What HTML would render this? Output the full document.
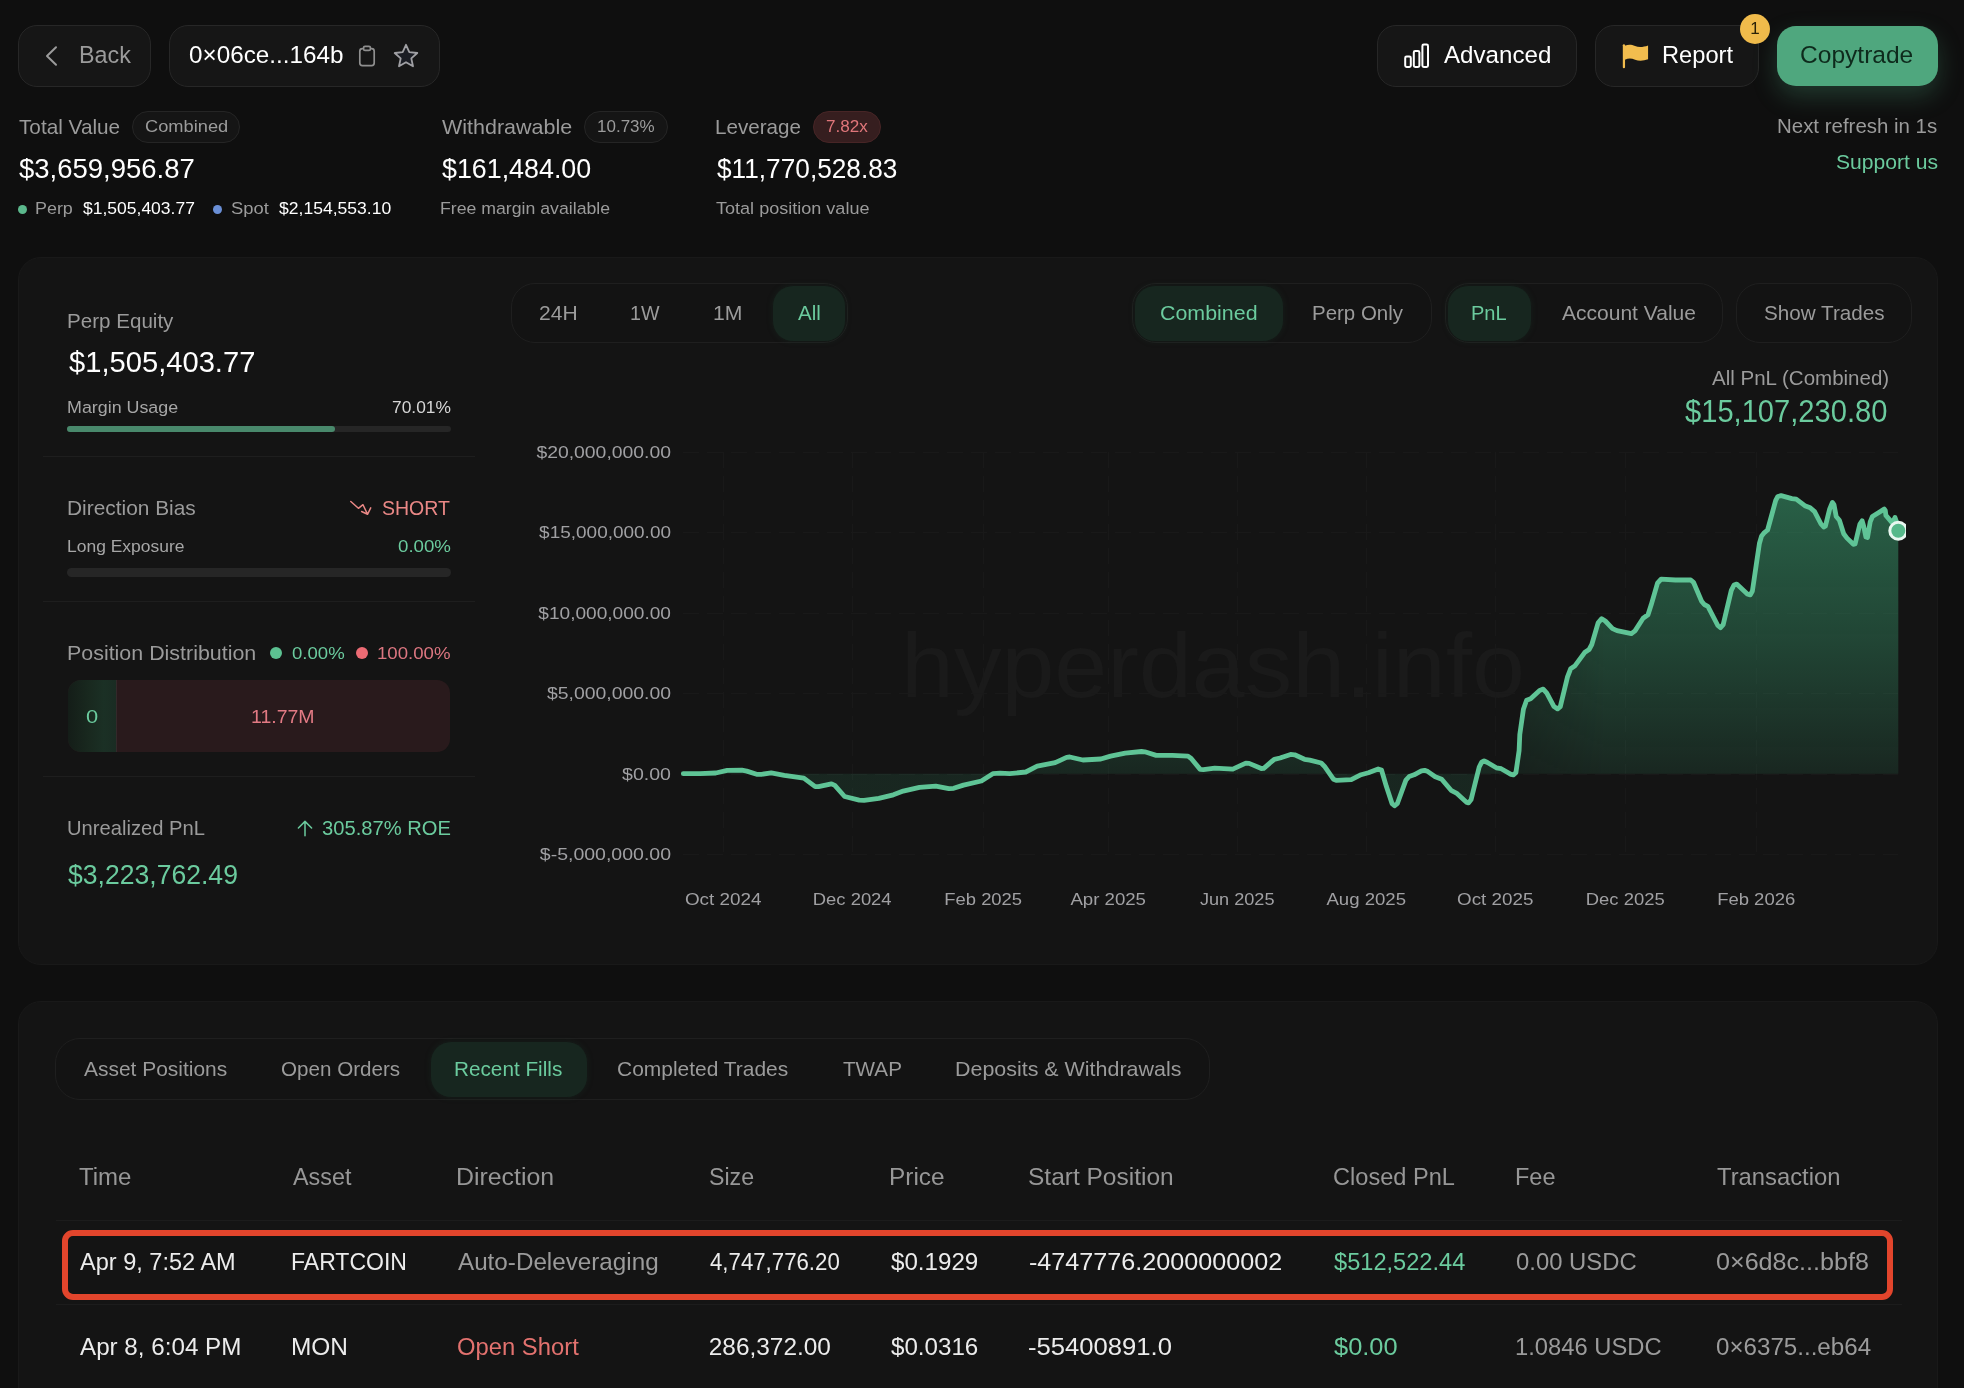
<!DOCTYPE html>
<html lang="en">
<head>
<meta charset="utf-8">
<title>hyperdash.info - Trader 0x06ce...164b</title>
<style>
*{box-sizing:border-box;margin:0;padding:0}
html,body{width:1964px;height:1388px;overflow:hidden;background:#0f0f0f}
body{position:relative;will-change:transform;font-family:"Liberation Sans",Arial,sans-serif;color:#fff;-webkit-font-smoothing:antialiased}
.a{position:absolute;white-space:nowrap;line-height:1;transform-origin:0 0}
.g{color:#9b9b9b}
.gr{color:#6bcb9e}
.rd{color:#ea8886}
.btn{position:absolute;top:25px;height:62px;border-radius:19px;background:#161616;border:1px solid #272727}
.pill{position:absolute;height:32px;border-radius:16px;background:#151515;border:1px solid #252525;font-size:17px;color:#9b9b9b;text-align:center;line-height:30px}
.card{position:absolute;left:18px;width:1920px;background:#141414;border:1px solid #191919;border-radius:23px}
.grp{position:absolute;border:1px solid #1f1f1f;border-radius:24px;background:#131313}
.sel{position:absolute;background:#17261f;border-radius:20px;box-shadow:0 0 6px rgba(30,70,50,.25)}
.t20{font-size:20px}
.t17{font-size:17px}
.hr{position:absolute;left:43px;width:432px;height:1px;background:#1e1e1e}
.bar{position:absolute;left:67px;width:384px;background:#262626}
.th{font-size:24px;color:#979797}
.td{font-size:24px}
</style>
</head>
<body>

<!-- HEADER -->
<div class="btn" style="left:18px;width:133px"></div>
<svg class="a" style="left:43.4px;top:43px" width="18" height="26" viewBox="0 0 18 26"><path d="M13 4.3 L4 13 L13 21.7" fill="none" stroke="#9b9b9b" stroke-width="2" stroke-linecap="round" stroke-linejoin="round"/></svg>
<div class="a g" id="back" style="left:78.6px;top:42.9px;font-size:24.5px;transform:scaleX(0.952);">Back</div>

<div class="btn" style="left:169px;width:271px"></div>
<div class="a" id="addr" style="left:188.6px;top:42.9px;font-size:24.5px;transform:scaleX(0.990);">0×06ce...164b</div>
<svg class="a" style="left:357px;top:43px" width="20" height="26" viewBox="0 0 20 26"><rect x="2.8" y="5.6" width="14.4" height="17" rx="2.6" fill="none" stroke="#8f8f8f" stroke-width="1.7"/><rect x="6.6" y="3.3" width="6.8" height="4" rx="1.4" fill="#161616" stroke="#8f8f8f" stroke-width="1.7"/></svg>
<svg class="a" style="left:392px;top:42px" width="28" height="28" viewBox="0 0 28 28"><path d="M14 2.8 L17.3 10.2 L25.3 11 L19.3 16.4 L21 24.3 L14 20.2 L7 24.3 L8.7 16.4 L2.7 11 L10.7 10.2 Z" fill="#1b1d24" stroke="#a0a0a4" stroke-width="1.8" stroke-linejoin="round"/></svg>

<div class="btn" style="left:1377px;width:200px"></div>
<svg class="a" style="left:1403px;top:42px" width="28" height="28" viewBox="0 0 28 28"><g fill="none" stroke="#fff" stroke-width="2" stroke-linejoin="round"><rect x="2.2" y="14.5" width="5.6" height="10.5" rx="1.4"/><rect x="10.8" y="9" width="5.6" height="16" rx="1.4"/><rect x="19.4" y="2.5" width="5.6" height="22.5" rx="1.4"/></g></svg>
<div class="a" id="adv" style="left:1444.3px;top:42.9px;font-size:24.5px;transform:scaleX(0.985);">Advanced</div>

<div class="btn" style="left:1595px;width:164px"></div>
<svg class="a" style="left:1621.5px;top:43px" width="28" height="26" viewBox="0 0 30 28"><path d="M2 2.5 L2 26" stroke="#f2bd4e" stroke-width="2.4" stroke-linecap="round" fill="none"/><path d="M3 3 C7 1.2 10 1.6 14 3.2 C18 4.8 23 4.4 28 2.6 L28 17.5 C23 19.4 18 19.6 14 18 C10 16.4 7 16.2 3 18 Z" fill="#f2bd4e"/></svg>
<div class="a" id="rep" style="left:1661.6px;top:42.9px;font-size:24.5px;transform:scaleX(0.966);">Report</div>
<div class="a" style="left:1740px;top:14px;width:30px;height:30px;border-radius:50%;background:#f0bb4b;color:#2a2208;font-size:17px;text-align:center;line-height:30px">1</div>

<div class="a" style="left:1777px;top:26px;width:161px;height:60px;border-radius:19px;background:#4fa77e;box-shadow:0 10px 24px rgba(79,167,126,.28)"></div>
<div class="a" id="copy" style="left:1800.3px;top:42.9px;font-size:24.5px;transform:scaleX(1.002);color:#0e2a1c">Copytrade</div>

<div class="a g t20" id="nref" style="left:1777.2px;top:116.4px;font-size:20.3px;transform:scaleX(1.008);">Next refresh in 1s</div>
<div class="a gr t20" id="supp" style="left:1835.6px;top:152.0px;font-size:20.3px;transform:scaleX(1.041);">Support us</div>

<!-- STATS -->
<div class="a g t20" id="tv" style="left:18.6px;top:117.0px;font-size:20.3px;transform:scaleX(1.023);">Total Value</div>
<div class="pill" style="left:132px;top:111px;width:108px"></div><div class="a g" id="pl1" style="left:145.1px;top:118.0px;font-size:17.2px;transform:scaleX(1.062);">Combined</div>
<div class="a" id="tvv" style="left:19.0px;top:156.2px;font-size:26.8px;transform:scaleX(1.026);">$3,659,956.87</div>
<div class="a" style="left:18px;top:205px;width:9px;height:9px;border-radius:50%;background:#5bb88c"></div>
<div class="a g t17" id="perp" style="left:35.3px;top:199.7px;font-size:17.2px;transform:scaleX(1.042);">Perp</div>
<div class="a t17" id="perpv" style="left:83.4px;top:199.7px;font-size:17.2px;transform:scaleX(1.018);">$1,505,403.77</div>
<div class="a" style="left:213px;top:205px;width:9px;height:9px;border-radius:50%;background:#6a8fd6"></div>
<div class="a g t17" id="spot" style="left:230.8px;top:199.7px;font-size:17.2px;transform:scaleX(1.070);">Spot</div>
<div class="a t17" id="spotv" style="left:279.4px;top:199.7px;font-size:17.2px;transform:scaleX(1.021);">$2,154,553.10</div>

<div class="a g t20" id="wd" style="left:441.5px;top:117.0px;font-size:20.3px;transform:scaleX(1.060);">Withdrawable</div>
<div class="pill" style="left:584px;top:111px;width:84px"></div><div class="a g" id="pl2" style="left:596.6px;top:118.0px;font-size:17.2px;transform:scaleX(0.989);">10.73%</div>
<div class="a" id="wdv" style="left:441.5px;top:156.2px;font-size:26.8px;transform:scaleX(1.001);">$161,484.00</div>
<div class="a g t17" id="fma" style="left:440.1px;top:199.7px;font-size:17.2px;transform:scaleX(1.029);">Free margin available</div>

<div class="a g t20" id="lev" style="left:714.9px;top:117.0px;font-size:20.3px;transform:scaleX(1.017);">Leverage</div>
<div class="pill" style="left:813px;top:111px;width:68px;background:#361e1f;border-color:#472526"></div><div class="a" id="pl3" style="left:825.5px;top:118.0px;font-size:17.2px;transform:scaleX(0.996);color:#e0767a">7.82x</div>
<div class="a" id="levv" style="left:716.5px;top:156.2px;font-size:26.8px;transform:scaleX(0.979);">$11,770,528.83</div>
<div class="a g t17" id="tpv" style="left:716.2px;top:199.7px;font-size:17.2px;transform:scaleX(1.050);">Total position value</div>

<!-- MAIN CARD -->
<div class="card" id="card1" style="top:257px;height:708px"><div style="position:absolute;left:0;top:1px">
<!--LEFT (coords relative to card: card origin = 18,258 incl. 1px border => inner origin 19,259)-->
<div class="a g t20" id="pe" style="left:47.9px;top:51.9px;font-size:20.3px;transform:scaleX(1.015);">Perp Equity</div>
<div class="a" id="pev" style="left:49.6px;top:89.1px;font-size:28.8px;transform:scaleX(1.012);">$1,505,403.77</div>
<div class="a t17" id="mu" style="left:48.0px;top:140.0px;font-size:17.2px;transform:scaleX(1.039);color:#a6a6a6">Margin Usage</div>
<div class="a t17" id="muv" style="left:372.5px;top:140.0px;font-size:17.2px;transform:scaleX(1.012);color:#d6d6d6">70.01%</div>
<div class="bar" style="left:48px;top:167px;height:6px;border-radius:3px"><div style="width:268px;height:6px;border-radius:3px;background:#49896c"></div></div>
<div class="hr" style="left:24px;top:197px"></div>

<div class="a g t20" id="db" style="left:47.9px;top:239.2px;font-size:20.3px;transform:scaleX(1.029);">Direction Bias</div>
<svg class="a" style="left:330px;top:240px" width="24" height="18" viewBox="0 0 24 18"><path d="M1.8 2.5 L9.4 9.3 L14 5.7 L18.5 15.3 M21.7 8.9 L18.5 15.3 L12.6 12.5" fill="none" stroke="#ea8886" stroke-width="1.5" stroke-linecap="round" stroke-linejoin="round"/></svg>
<div class="a rd t20" id="sh" style="left:363.3px;top:239.2px;font-size:20.3px;transform:scaleX(0.962);">SHORT</div>
<div class="a t17" id="le" style="left:48.1px;top:278.6px;font-size:17.2px;transform:scaleX(1.016);color:#a6a6a6">Long Exposure</div>
<div class="a t17 gr" id="lev0" style="left:378.5px;top:278.6px;font-size:17.2px;transform:scaleX(1.087);">0.00%</div>
<div class="bar" style="left:48px;top:309px;height:9px;border-radius:4.5px"></div>
<div class="hr" style="left:24px;top:342px"></div>

<div class="a g t20" id="pd" style="left:47.7px;top:383.7px;font-size:20.3px;transform:scaleX(1.056);">Position Distribution</div>
<div class="a" style="left:251px;top:388px;width:12px;height:12px;border-radius:50%;background:#5cc191"></div>
<div class="a gr t17" id="pd0" style="left:272.5px;top:385.8px;font-size:17.2px;transform:scaleX(1.081);">0.00%</div>
<div class="a" style="left:337px;top:388px;width:12px;height:12px;border-radius:50%;background:#ec6b74"></div>
<div class="a t17" id="pd100" style="left:358.0px;top:385.8px;font-size:17.2px;transform:scaleX(1.084);;color:#dc7680">100.00%</div>
<div class="a" style="left:49px;top:421px;width:382px;height:72px;border-radius:13px;overflow:hidden;background:#291a1c">
  <div style="position:absolute;left:0;top:0;width:49px;height:72px;background:linear-gradient(90deg,#141d18 0%,#19291f 45%,#1b3025 75%,#1a2c23 100%);border-right:1px solid #33292a"></div>
  <div class="a gr" id="d0" style="left:17.6px;top:27.0px;font-size:19px;transform:scaleX(1.151);">0</div>
  <div class="a" id="d1" style="left:183.2px;top:27.0px;font-size:19px;transform:scaleX(1.026);color:#e27a84">11.77M</div>
</div>
<div class="hr" style="left:24px;top:517px"></div>

<div class="a g t20" id="up" style="left:47.9px;top:558.9px;font-size:20.3px;transform:scaleX(0.995);">Unrealized PnL</div>
<svg class="a" style="left:276px;top:559px" width="20" height="22" viewBox="0 0 20 22"><path d="M10 17.8 L10 3.4 M3.4 10 L10 3.4 L16.6 10" fill="none" stroke="#6bcb9e" stroke-width="1.5" stroke-linecap="round" stroke-linejoin="round"/></svg>
<div class="a gr t20" id="roe" style="left:302.5px;top:558.9px;font-size:20.3px;transform:scaleX(0.994);">305.87% ROE</div>
<div class="a gr" id="upv" style="left:49.4px;top:601.8px;font-size:27.4px;transform:scaleX(0.970);">$3,223,762.49</div>

<!--CHART controls (page coords minus 19,259)-->
<div class="grp" style="left:492px;top:24px;width:337px;height:60px"></div>
<div class="sel" style="left:754px;top:27px;width:72px;height:55px"></div>
<div class="a g t20" id="r24" style="left:519.5px;top:43.5px;font-size:20.3px;transform:scaleX(1.039);">24H</div>
<div class="a g t20" id="r1w" style="left:610.5px;top:43.5px;font-size:20.3px;transform:scaleX(0.970);">1W</div>
<div class="a g t20" id="r1m" style="left:694.4px;top:43.5px;font-size:20.3px;transform:scaleX(1.045);">1M</div>
<div class="a gr t20" id="rall" style="left:779.0px;top:43.5px;font-size:20.3px;transform:scaleX(1.012);">All</div>

<div class="grp" style="left:1113px;top:24px;width:300px;height:60px"></div>
<div class="sel" style="left:1116px;top:27px;width:148px;height:55px"></div>
<div class="a gr t20" id="cmb" style="left:1141.3px;top:43.5px;font-size:20.3px;transform:scaleX(1.055);">Combined</div>
<div class="a g t20" id="po" style="left:1292.5px;top:43.5px;font-size:20.3px;transform:scaleX(1.009);">Perp Only</div>

<div class="grp" style="left:1426px;top:24px;width:278px;height:60px"></div>
<div class="sel" style="left:1429px;top:27px;width:83px;height:55px"></div>
<div class="a gr t20" id="pnl" style="left:1451.9px;top:43.5px;font-size:20.3px;transform:scaleX(0.988);">PnL</div>
<div class="a g t20" id="av" style="left:1542.5px;top:43.5px;font-size:20.3px;transform:scaleX(1.036);">Account Value</div>

<div class="grp" style="left:1717px;top:24px;width:176px;height:60px"></div>
<div class="a g t20" id="st" style="left:1744.6px;top:43.5px;font-size:20.3px;transform:scaleX(1.019);">Show Trades</div>

<div class="a g t20" id="apc" style="left:1693.2px;top:108.8px;font-size:20.3px;transform:scaleX(1.012);">All PnL (Combined)</div>
<div class="a gr" id="apv" style="left:1666.3px;top:137.3px;font-size:31px;transform:scaleX(0.939);">$15,107,230.80</div>

</div></div>

<!--SVGSTART-->
<svg class="a" id="chart" style="left:0;top:0" width="1964" height="1388" viewBox="0 0 1964 1388">
<defs><linearGradient id="ag" gradientUnits="userSpaceOnUse" x1="0" y1="495" x2="0" y2="774"><stop offset="0" stop-color="#42bd85" stop-opacity=".45"/><stop offset=".5" stop-color="#42bd85" stop-opacity=".30"/><stop offset="1" stop-color="#42bd85" stop-opacity=".115"/></linearGradient><linearGradient id="mg" gradientUnits="userSpaceOnUse" x1="683" y1="0" x2="1898" y2="0"><stop offset="0" stop-color="#fff"/><stop offset=".6855" stop-color="#fff"/><stop offset=".6865" stop-color="#a8a8a8"/><stop offset=".76" stop-color="#fff"/><stop offset="1" stop-color="#fff"/></linearGradient><mask id="mk" maskUnits="userSpaceOnUse" x="676" y="440" width="1230" height="430"><rect x="676" y="440" width="1230" height="430" fill="url(#mg)"/></mask><clipPath id="cc"><rect x="676" y="440" width="1230" height="430"/></clipPath></defs>
<text x="1213" y="697" text-anchor="middle" font-family="'Liberation Sans',Arial,sans-serif" font-size="90" textLength="624" lengthAdjust="spacingAndGlyphs" fill="#1a1a1a" id="wm">hyperdash.info</text>
<g stroke="#191919" stroke-width="1" stroke-dasharray="16 8" fill="none">
<path d="M683 452.5 H1898"/>
<path d="M683 532.5 H1898"/>
<path d="M683 613.5 H1898"/>
<path d="M683 693.5 H1898"/>
<path d="M683 774.5 H1898"/>
<path d="M683 854.5 H1898"/>
<path d="M723.5 452 V854"/>
<path d="M852.5 452 V854"/>
<path d="M983.5 452 V854"/>
<path d="M1108.5 452 V854"/>
<path d="M1237.5 452 V854"/>
<path d="M1366.5 452 V854"/>
<path d="M1495.5 452 V854"/>
<path d="M1625.5 452 V854"/>
<path d="M1756.5 452 V854"/>
</g>
<g clip-path="url(#cc)">
<path d="M683.3,773.7 L700.0,773.6 L715.8,773.0 L727.2,770.4 L741.9,770.2 L746.8,771.1 L756.6,774.3 L761.5,774.3 L771.2,772.9 L784.3,775.3 L803.8,778.1 L815.2,786.7 L818.5,786.7 L831.5,783.8 L834.8,785.4 L844.6,796.5 L859.2,800.1 L864.1,800.4 L878.8,798.4 L893.4,794.8 L903.2,791.1 L919.5,787.4 L935.8,786.2 L948.8,788.7 L953.7,788.3 L963.5,785.1 L981.4,781.0 L992.8,773.7 L1000.0,773.2 L1009.6,773.7 L1025.8,772.0 L1037.2,766.2 L1055.2,762.6 L1066.6,757.4 L1069.8,757.0 L1082.9,760.0 L1100.8,759.0 L1110.6,756.1 L1125.2,753.1 L1141.5,751.5 L1144.8,751.8 L1156.2,755.4 L1172.5,755.4 L1188.0,756.1 L1191.2,758.5 L1200.2,769.4 L1203.4,769.6 L1214.8,768.1 L1232.8,769.1 L1245.8,763.1 L1249.1,763.4 L1261.3,768.5 L1263.7,768.3 L1274.3,759.3 L1280.0,758.0 L1290.6,754.4 L1294.7,754.8 L1304.5,759.3 L1309.8,760.2 L1321.2,763.0 L1324.4,766.2 L1333.4,779.2 L1336.7,780.4 L1351.3,779.7 L1361.1,774.7 L1368.4,772.7 L1378.2,769.0 L1381.5,770.0 L1386.4,786.6 L1392.1,803.7 L1394.5,805.8 L1397.3,803.7 L1405.9,780.1 L1409.2,776.5 L1414.1,774.8 L1421.4,770.8 L1424.6,770.3 L1427.9,771.6 L1435.2,776.8 L1441.7,779.2 L1451.5,790.7 L1456.4,793.1 L1466.2,802.1 L1468.6,802.9 L1471.1,799.6 L1479.2,767.0 L1481.7,762.1 L1484.1,760.8 L1487.4,762.5 L1496.3,767.8 L1501.2,768.7 L1511.0,774.4 L1513.4,774.8 L1515.9,772.7 L1519.1,750.7 L1519.8,734.5 L1523.4,709.3 L1526.6,700.3 L1530.6,698.8 L1539.6,690.4 L1543.2,689.1 L1546.8,693.1 L1554.0,706.6 L1557.6,708.9 L1560.3,706.6 L1567.5,676.9 L1570.6,668.8 L1574.7,666.1 L1584.6,652.6 L1589.1,649.5 L1591.8,644.5 L1598.1,622.8 L1601.7,618.7 L1605.3,621.0 L1612.5,628.6 L1617.0,630.6 L1631.4,633.7 L1635.0,630.9 L1643.1,618.3 L1648.0,614.7 L1651.2,604.8 L1657.5,583.2 L1661.1,579.1 L1675.5,580.0 L1690.8,580.0 L1693.5,582.3 L1701.6,601.2 L1704.3,604.5 L1707.9,606.3 L1717.8,625.5 L1720.5,627.7 L1723.2,624.6 L1731.3,590.4 L1734.0,585.0 L1736.7,584.1 L1747.6,594.2 L1750.3,594.8 L1752.4,591.0 L1756.2,565.1 L1759.4,543.5 L1761.6,535.9 L1763.8,533.2 L1767.6,530.0 L1771.3,516.5 L1775.7,500.3 L1777.8,496.5 L1781.1,495.6 L1791.9,498.6 L1796.2,499.2 L1804.8,505.7 L1810.2,507.8 L1814.6,511.6 L1821.0,524.0 L1823.7,527.0 L1825.4,526.2 L1829.7,508.9 L1832.4,502.4 L1834.0,504.6 L1836.2,516.5 L1839.4,520.2 L1843.7,533.7 L1847.0,538.1 L1853.4,544.3 L1855.1,544.0 L1859.9,524.0 L1862.1,520.8 L1863.7,526.2 L1865.9,537.0 L1867.5,537.5 L1870.2,521.9 L1872.4,516.5 L1884.2,509.1 L1885.3,510.5 L1885.9,515.4 L1892.3,522.9 L1895.0,517.5 L1896.1,520.8 L1898.3,530.7 L1898.3,773.8 L683.3,773.8 Z" fill="url(#ag)" mask="url(#mk)"/>
<path d="M683.3,773.7 L700.0,773.6 L715.8,773.0 L727.2,770.4 L741.9,770.2 L746.8,771.1 L756.6,774.3 L761.5,774.3 L771.2,772.9 L784.3,775.3 L803.8,778.1 L815.2,786.7 L818.5,786.7 L831.5,783.8 L834.8,785.4 L844.6,796.5 L859.2,800.1 L864.1,800.4 L878.8,798.4 L893.4,794.8 L903.2,791.1 L919.5,787.4 L935.8,786.2 L948.8,788.7 L953.7,788.3 L963.5,785.1 L981.4,781.0 L992.8,773.7 L1000.0,773.2 L1009.6,773.7 L1025.8,772.0 L1037.2,766.2 L1055.2,762.6 L1066.6,757.4 L1069.8,757.0 L1082.9,760.0 L1100.8,759.0 L1110.6,756.1 L1125.2,753.1 L1141.5,751.5 L1144.8,751.8 L1156.2,755.4 L1172.5,755.4 L1188.0,756.1 L1191.2,758.5 L1200.2,769.4 L1203.4,769.6 L1214.8,768.1 L1232.8,769.1 L1245.8,763.1 L1249.1,763.4 L1261.3,768.5 L1263.7,768.3 L1274.3,759.3 L1280.0,758.0 L1290.6,754.4 L1294.7,754.8 L1304.5,759.3 L1309.8,760.2 L1321.2,763.0 L1324.4,766.2 L1333.4,779.2 L1336.7,780.4 L1351.3,779.7 L1361.1,774.7 L1368.4,772.7 L1378.2,769.0 L1381.5,770.0 L1386.4,786.6 L1392.1,803.7 L1394.5,805.8 L1397.3,803.7 L1405.9,780.1 L1409.2,776.5 L1414.1,774.8 L1421.4,770.8 L1424.6,770.3 L1427.9,771.6 L1435.2,776.8 L1441.7,779.2 L1451.5,790.7 L1456.4,793.1 L1466.2,802.1 L1468.6,802.9 L1471.1,799.6 L1479.2,767.0 L1481.7,762.1 L1484.1,760.8 L1487.4,762.5 L1496.3,767.8 L1501.2,768.7 L1511.0,774.4 L1513.4,774.8 L1515.9,772.7 L1519.1,750.7 L1519.8,734.5 L1523.4,709.3 L1526.6,700.3 L1530.6,698.8 L1539.6,690.4 L1543.2,689.1 L1546.8,693.1 L1554.0,706.6 L1557.6,708.9 L1560.3,706.6 L1567.5,676.9 L1570.6,668.8 L1574.7,666.1 L1584.6,652.6 L1589.1,649.5 L1591.8,644.5 L1598.1,622.8 L1601.7,618.7 L1605.3,621.0 L1612.5,628.6 L1617.0,630.6 L1631.4,633.7 L1635.0,630.9 L1643.1,618.3 L1648.0,614.7 L1651.2,604.8 L1657.5,583.2 L1661.1,579.1 L1675.5,580.0 L1690.8,580.0 L1693.5,582.3 L1701.6,601.2 L1704.3,604.5 L1707.9,606.3 L1717.8,625.5 L1720.5,627.7 L1723.2,624.6 L1731.3,590.4 L1734.0,585.0 L1736.7,584.1 L1747.6,594.2 L1750.3,594.8 L1752.4,591.0 L1756.2,565.1 L1759.4,543.5 L1761.6,535.9 L1763.8,533.2 L1767.6,530.0 L1771.3,516.5 L1775.7,500.3 L1777.8,496.5 L1781.1,495.6 L1791.9,498.6 L1796.2,499.2 L1804.8,505.7 L1810.2,507.8 L1814.6,511.6 L1821.0,524.0 L1823.7,527.0 L1825.4,526.2 L1829.7,508.9 L1832.4,502.4 L1834.0,504.6 L1836.2,516.5 L1839.4,520.2 L1843.7,533.7 L1847.0,538.1 L1853.4,544.3 L1855.1,544.0 L1859.9,524.0 L1862.1,520.8 L1863.7,526.2 L1865.9,537.0 L1867.5,537.5 L1870.2,521.9 L1872.4,516.5 L1884.2,509.1 L1885.3,510.5 L1885.9,515.4 L1892.3,522.9 L1895.0,517.5 L1896.1,520.8 L1898.3,530.7" fill="none" stroke="#5fc496" stroke-width="4.8" stroke-linejoin="round" stroke-linecap="round"/>
<circle cx="1898.3" cy="530.7" r="8.5" fill="#56b88a" stroke="#e9f7f0" stroke-width="3"/>
</g>
<g font-family="'Liberation Sans',Arial,sans-serif" font-size="17.2" fill="#a0a0a3">
<text x="671" y="457.7" text-anchor="end" textLength="134.6" lengthAdjust="spacingAndGlyphs">$20,000,000.00</text>
<text x="671" y="537.7" text-anchor="end" textLength="131.9" lengthAdjust="spacingAndGlyphs">$15,000,000.00</text>
<text x="671" y="618.7" text-anchor="end" textLength="132.7" lengthAdjust="spacingAndGlyphs">$10,000,000.00</text>
<text x="671" y="698.7" text-anchor="end" textLength="124.0" lengthAdjust="spacingAndGlyphs">$5,000,000.00</text>
<text x="671" y="779.7" text-anchor="end" textLength="49.0" lengthAdjust="spacingAndGlyphs">$0.00</text>
<text x="671" y="859.7" text-anchor="end" textLength="131.2" lengthAdjust="spacingAndGlyphs">$-5,000,000.00</text>
<text x="723.2" y="904.9" text-anchor="middle" textLength="76.6" lengthAdjust="spacingAndGlyphs">Oct 2024</text>
<text x="852.2" y="904.9" text-anchor="middle" textLength="78.8" lengthAdjust="spacingAndGlyphs">Dec 2024</text>
<text x="983.2" y="904.9" text-anchor="middle" textLength="77.8" lengthAdjust="spacingAndGlyphs">Feb 2025</text>
<text x="1108.2" y="904.9" text-anchor="middle" textLength="75.6" lengthAdjust="spacingAndGlyphs">Apr 2025</text>
<text x="1237.2" y="904.9" text-anchor="middle" textLength="74.6" lengthAdjust="spacingAndGlyphs">Jun 2025</text>
<text x="1366.2" y="904.9" text-anchor="middle" textLength="79.6" lengthAdjust="spacingAndGlyphs">Aug 2025</text>
<text x="1495.2" y="904.9" text-anchor="middle" textLength="76.3" lengthAdjust="spacingAndGlyphs">Oct 2025</text>
<text x="1625.2" y="904.9" text-anchor="middle" textLength="78.9" lengthAdjust="spacingAndGlyphs">Dec 2025</text>
<text x="1756.2" y="904.9" text-anchor="middle" textLength="78.1" lengthAdjust="spacingAndGlyphs">Feb 2026</text>
</g></svg>
<!--SVGEND-->

<!-- BOTTOM CARD -->
<div class="card" id="card2" style="top:1001px;height:460px">
<div class="grp" style="left:36px;top:36px;width:1155px;height:62px;border-radius:25px"></div>
<div class="sel" style="left:412px;top:40px;width:156px;height:55px"></div>
<div class="a g t20" id="tb1" style="left:64.5px;top:57.0px;font-size:20.3px;transform:scaleX(1.033);">Asset Positions</div>
<div class="a g t20" id="tb2" style="left:262.1px;top:57.0px;font-size:20.3px;transform:scaleX(1.016);">Open Orders</div>
<div class="a gr t20" id="tb3" style="left:435.4px;top:57.0px;font-size:20.3px;transform:scaleX(1.022);">Recent Fills</div>
<div class="a g t20" id="tb4" style="left:597.5px;top:57.0px;font-size:20.3px;transform:scaleX(1.033);">Completed Trades</div>
<div class="a g t20" id="tb5" style="left:823.6px;top:57.0px;font-size:20.3px;transform:scaleX(1.019);">TWAP</div>
<div class="a g t20" id="tb6" style="left:935.8px;top:57.0px;font-size:20.3px;transform:scaleX(1.057);">Deposits &amp; Withdrawals</div>
<div class="a th" id="h0" style="left:60.2px;top:162.8px;font-size:24.4px;transform:scaleX(0.984);">Time</div>
<div class="a th" id="h1" style="left:273.7px;top:162.8px;font-size:24.4px;transform:scaleX(0.957);">Asset</div>
<div class="a th" id="h2" style="left:437.0px;top:162.8px;font-size:24.4px;transform:scaleX(1.020);">Direction</div>
<div class="a th" id="h3" style="left:690.0px;top:162.8px;font-size:24.4px;transform:scaleX(0.950);">Size</div>
<div class="a th" id="h4" style="left:870.0px;top:162.8px;font-size:24.4px;transform:scaleX(1.000);">Price</div>
<div class="a th" id="h5" style="left:1009.4px;top:162.8px;font-size:24.4px;transform:scaleX(1.004);">Start Position</div>
<div class="a th" id="h6" style="left:1313.8px;top:162.8px;font-size:24.4px;transform:scaleX(0.967);">Closed PnL</div>
<div class="a th" id="h7" style="left:1496.1px;top:162.8px;font-size:24.4px;transform:scaleX(0.962);">Fee</div>
<div class="a th" id="h8" style="left:1697.5px;top:162.8px;font-size:24.4px;transform:scaleX(0.976);">Transaction</div>
<div class="a" style="left:37px;top:218px;width:1846px;height:1px;background:#1c1c1c"></div>
<div class="a" style="left:37px;top:302px;width:1846px;height:1px;background:#1c1c1c"></div>
<div class="a td" id="a0" style="left:60.7px;top:247.9px;font-size:24.4px;transform:scaleX(0.965);color:#ececec">Apr 9, 7:52 AM</div>
<div class="a td" id="a1" style="left:271.8px;top:247.9px;font-size:24.4px;transform:scaleX(0.944);color:#ececec">FARTCOIN</div>
<div class="a td" id="a2" style="left:439.0px;top:247.9px;font-size:24.4px;transform:scaleX(0.993);color:#9b9b9b">Auto-Deleveraging</div>
<div class="a td" id="a3" style="left:690.5px;top:247.9px;font-size:24.4px;transform:scaleX(0.911);color:#ececec">4,747,776.20</div>
<div class="a td" id="a4" style="left:871.8px;top:247.9px;font-size:24.4px;transform:scaleX(0.990);color:#ececec">$0.1929</div>
<div class="a td" id="a5" style="left:1009.5px;top:247.9px;font-size:24.4px;transform:scaleX(1.031);color:#ececec">-4747776.2000000002</div>
<div class="a td" id="a6" style="left:1314.8px;top:247.9px;font-size:24.4px;transform:scaleX(0.968);color:#6bcb9e">$512,522.44</div>
<div class="a td" id="a7" style="left:1497.1px;top:247.9px;font-size:24.4px;transform:scaleX(0.979);color:#9b9b9b">0.00 USDC</div>
<div class="a td" id="a8" style="left:1697.1px;top:247.9px;font-size:24.4px;transform:scaleX(1.030);color:#9b9b9b">0×6d8c...bbf8</div>
<div class="a td" id="b0" style="left:60.7px;top:332.9px;font-size:24.4px;transform:scaleX(0.992);color:#ececec">Apr 8, 6:04 PM</div>
<div class="a td" id="b1" style="left:271.7px;top:332.9px;font-size:24.4px;transform:scaleX(1.002);color:#ececec">MON</div>
<div class="a td" id="b2" style="left:437.9px;top:332.9px;font-size:24.4px;transform:scaleX(0.976);color:#e3726f">Open Short</div>
<div class="a td" id="b3" style="left:689.8px;top:332.9px;font-size:24.4px;transform:scaleX(1.000);color:#ececec">286,372.00</div>
<div class="a td" id="b4" style="left:871.8px;top:332.9px;font-size:24.4px;transform:scaleX(0.990);color:#ececec">$0.0316</div>
<div class="a td" id="b5" style="left:1009.4px;top:332.9px;font-size:24.4px;transform:scaleX(1.051);color:#ececec">-55400891.0</div>
<div class="a td" id="b6" style="left:1314.8px;top:332.9px;font-size:24.4px;transform:scaleX(1.042);color:#6bcb9e">$0.00</div>
<div class="a td" id="b7" style="left:1496.2px;top:332.9px;font-size:24.4px;transform:scaleX(0.974);color:#9b9b9b">1.0846 USDC</div>
<div class="a td" id="b8" style="left:1697.1px;top:332.9px;font-size:24.4px;transform:scaleX(0.990);color:#9b9b9b">0×6375...eb64</div>
<div class="a" style="left:42.5px;top:228px;width:1831px;height:70px;border:6px solid #e2452c;border-radius:11px"></div>
</div>

</body>
</html>
